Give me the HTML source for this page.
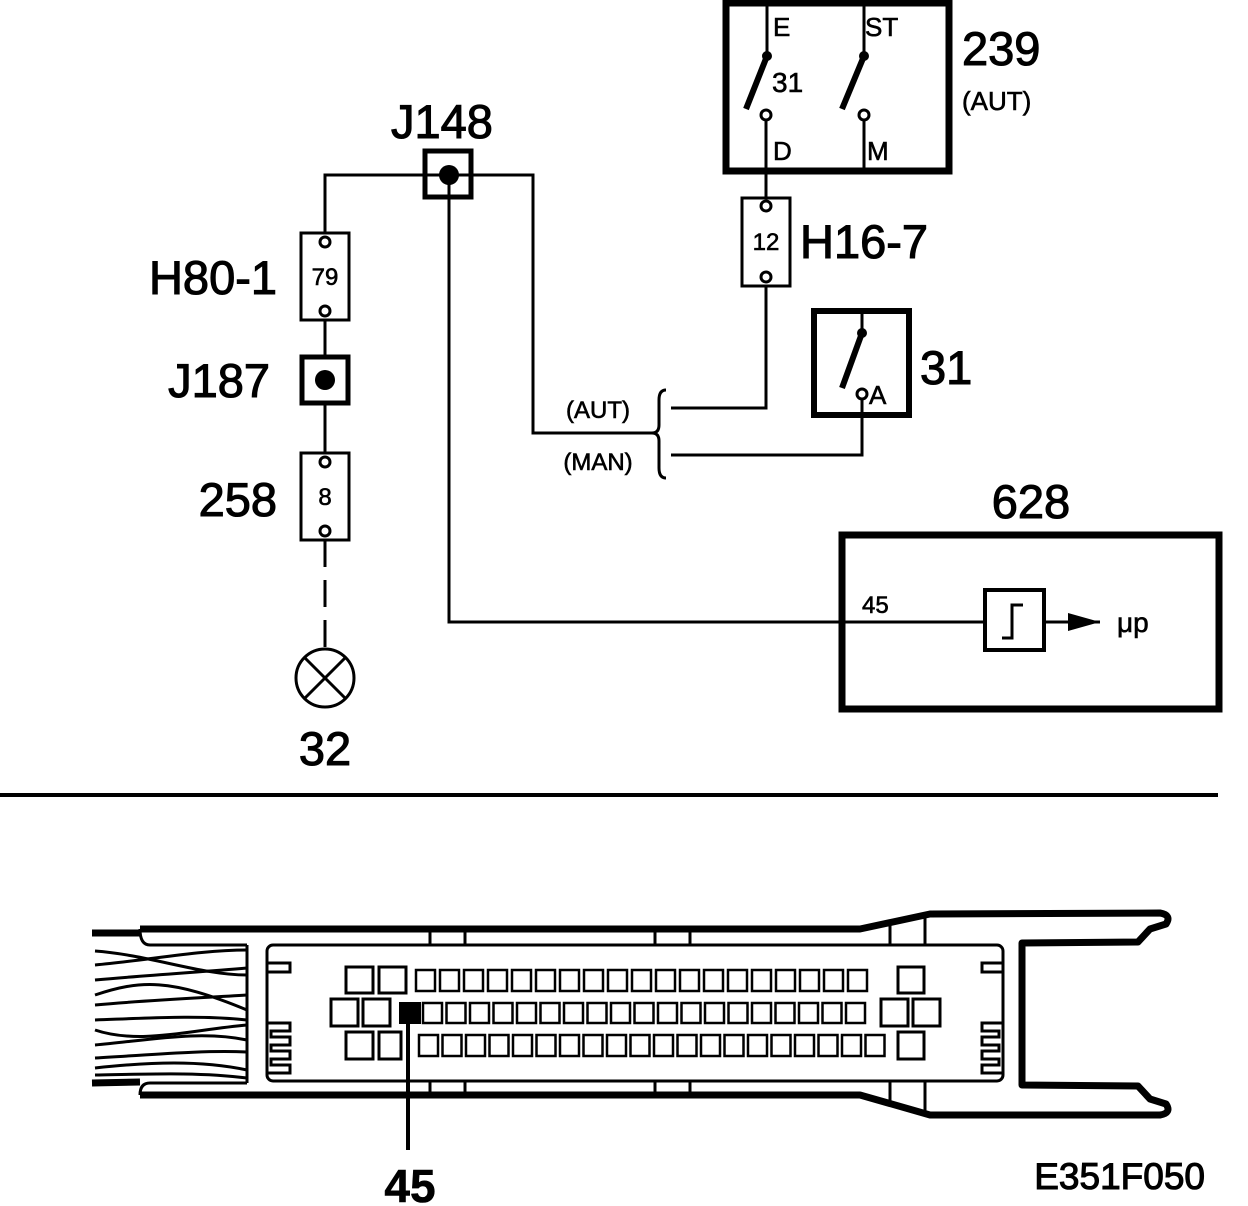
<!DOCTYPE html>
<html><head><meta charset="utf-8"><style>
html,body{margin:0;padding:0;background:#fff}
svg{display:block}
text{font-family:"Liberation Sans",Arial,sans-serif;fill:#000;stroke:#000;stroke-width:0.6}
text.b{stroke-width:1.1}
</style></head><body>
<svg width="1248" height="1206" viewBox="0 0 1248 1206" xmlns="http://www.w3.org/2000/svg">
<g fill="none" stroke="#000">
<polyline points="325,233 325,175 533,175 533,433 652,433" stroke-width="3"/>
<polyline points="449,175 449,622 985,622" stroke-width="3"/>
<rect x="425" y="151" width="46" height="46" stroke-width="5"/>
<rect x="301" y="233" width="48" height="87" stroke-width="3"/>
<line x1="325" y1="320" x2="325" y2="356" stroke-width="3"/>
<rect x="302" y="357" width="46" height="46" stroke-width="5"/>
<line x1="325" y1="403" x2="325" y2="453" stroke-width="3"/>
<rect x="301" y="453" width="48" height="87" stroke-width="3"/>
<line x1="325" y1="540" x2="325" y2="652" stroke-width="3" stroke-dasharray="27,13"/>
<circle cx="325" cy="678" r="29" stroke-width="3"/>
<line x1="305" y1="658" x2="345" y2="698" stroke-width="3"/>
<line x1="345" y1="658" x2="305" y2="698" stroke-width="3"/>
<rect x="726" y="3" width="223" height="168" stroke-width="7"/>
<line x1="767" y1="3" x2="767" y2="56" stroke-width="3"/>
<line x1="864" y1="3" x2="864" y2="56" stroke-width="3"/>
<line x1="767" y1="56" x2="746" y2="109" stroke-width="6"/>
<line x1="864" y1="56" x2="842" y2="109" stroke-width="6"/>
<line x1="766" y1="120" x2="766" y2="199" stroke-width="3"/>
<line x1="864" y1="120" x2="864" y2="171" stroke-width="3"/>
<circle cx="766" cy="115" r="5" stroke-width="3" fill="#fff"/>
<circle cx="864" cy="115" r="5" stroke-width="3" fill="#fff"/>
<rect x="742" y="198" width="48" height="88" stroke-width="3"/>
<polyline points="766,286 766,408 671,408" stroke-width="3"/>
<rect x="814" y="311" width="95" height="104" stroke-width="6"/>
<line x1="862" y1="311" x2="862" y2="333" stroke-width="3"/>
<line x1="862" y1="333" x2="842" y2="388" stroke-width="6"/>
<polyline points="862,398 862,455 671,455" stroke-width="3"/>
<circle cx="862" cy="394" r="5" stroke-width="3" fill="#fff"/>
<path d="M666,390 Q659,390 659,400 L659,425 Q659,433 652,433 Q659,433 659,441 L659,468 Q659,478 666,478" stroke-width="3"/>
<rect x="842" y="535" width="377" height="174" stroke-width="7"/>
<rect x="985" y="590" width="59" height="60" stroke-width="4"/>
<polyline points="1002,638 1012,638 1012,605 1023,605" stroke-width="3"/>
<line x1="1044" y1="622" x2="1100" y2="622" stroke-width="3"/>
<line x1="0" y1="795" x2="1218" y2="795" stroke-width="4"/>
<path d="M92,933 L140,933 M140,929 L860,929 L930,914 L1160,913 Q1172,915 1166,924 L1150,929 L1138,942 L1022,943 L1022,1085 L1138,1086 L1150,1099 L1166,1104 Q1172,1113 1160,1115 L930,1115 L860,1095 L140,1095 M92,1083 L140,1082" stroke-width="7" stroke-linejoin="round"/>
<path d="M140,929 Q140,945 150,945 L247,945 M140,1095 Q140,1083 150,1083 L247,1083" stroke-width="3"/>
<line x1="247" y1="945" x2="247" y2="1083" stroke-width="3"/>
<rect x="267" y="945" width="736" height="136" rx="6" stroke-width="3"/>
<path d="M267,963 L290,963 L290,972 L267,972 M267,1023 L290,1023 L290,1031 L271,1031 L271,1037 L290,1037 L290,1045 L271,1045 L271,1051 L290,1051 L290,1059 L271,1059 L271,1065 L290,1065 L290,1073 L267,1073" stroke-width="3"/>
<path d="M1003,963 L982,963 L982,972 L1003,972 M1003,1023 L982,1023 L982,1031 L999,1031 L999,1037 L982,1037 L982,1045 L999,1045 L999,1051 L982,1051 L982,1059 L999,1059 L999,1065 L982,1065 L982,1073 L1003,1073" stroke-width="3"/>
<path d="M430,932 V945 M465,932 V945 M655,932 V945 M690,932 V945 M890,920 V945 M925,915 V945 M430,1081 V1092 M465,1081 V1092 M655,1081 V1092 M690,1081 V1092 M890,1081 V1102 M925,1081 V1112" stroke-width="3"/>
<g stroke-width="3">
<path d="M95,951 C150,955 200,975 247,975"/>
<path d="M95,965 C150,960 200,950 247,950"/>
<path d="M95,980 C150,975 200,972 247,968"/>
<path d="M95,995 C140,980 170,978 247,1010"/>
<path d="M95,1005 C150,1000 200,998 247,995"/>
<path d="M95,1020 C150,1018 200,1015 247,1020"/>
<path d="M95,1030 C140,1045 190,1030 247,1025"/>
<path d="M95,1045 C150,1040 200,1030 247,1040"/>
<path d="M95,1058 C150,1055 200,1050 247,1052"/>
<path d="M95,1068 C150,1062 200,1060 247,1070"/>
<path d="M95,1075 C150,1074 200,1072 247,1078"/>
</g>
<g stroke-width="3">
<rect x="346" y="967" width="27" height="26"/><rect x="379" y="967" width="27" height="26"/>
<rect x="331" y="999" width="27" height="27"/><rect x="363" y="999" width="27" height="27"/>
<rect x="346" y="1032" width="27" height="27"/><rect x="379" y="1032" width="22" height="27"/>
<rect x="898" y="967" width="26" height="26"/>
<rect x="881" y="999" width="27" height="27"/><rect x="913" y="999" width="27" height="27"/>
<rect x="898" y="1032" width="26" height="27"/>
</g>
<g stroke-width="2.5">
<rect x="416" y="970" width="19" height="21"/><rect x="440" y="970" width="19" height="21"/><rect x="464" y="970" width="19" height="21"/><rect x="488" y="970" width="19" height="21"/><rect x="512" y="970" width="19" height="21"/><rect x="536" y="970" width="19" height="21"/><rect x="560" y="970" width="19" height="21"/><rect x="584" y="970" width="19" height="21"/><rect x="608" y="970" width="19" height="21"/><rect x="632" y="970" width="19" height="21"/><rect x="656" y="970" width="19" height="21"/><rect x="680" y="970" width="19" height="21"/><rect x="704" y="970" width="19" height="21"/><rect x="728" y="970" width="19" height="21"/><rect x="752" y="970" width="19" height="21"/><rect x="776" y="970" width="19" height="21"/><rect x="800" y="970" width="19" height="21"/><rect x="824" y="970" width="19" height="21"/><rect x="848" y="970" width="19" height="21"/>
</g>
<g stroke-width="2.5">
<rect x="423" y="1003" width="19" height="20"/><rect x="446.5" y="1003" width="19" height="20"/><rect x="470" y="1003" width="19" height="20"/><rect x="493.5" y="1003" width="19" height="20"/><rect x="517" y="1003" width="19" height="20"/><rect x="540.5" y="1003" width="19" height="20"/><rect x="564" y="1003" width="19" height="20"/><rect x="587.5" y="1003" width="19" height="20"/><rect x="611" y="1003" width="19" height="20"/><rect x="634.5" y="1003" width="19" height="20"/><rect x="658" y="1003" width="19" height="20"/><rect x="681.5" y="1003" width="19" height="20"/><rect x="705" y="1003" width="19" height="20"/><rect x="728.5" y="1003" width="19" height="20"/><rect x="752" y="1003" width="19" height="20"/><rect x="775.5" y="1003" width="19" height="20"/><rect x="799" y="1003" width="19" height="20"/><rect x="822.5" y="1003" width="19" height="20"/><rect x="846" y="1003" width="19" height="20"/>
</g>
<g stroke-width="2.5">
<rect x="419" y="1035" width="19" height="21"/><rect x="442.5" y="1035" width="19" height="21"/><rect x="466" y="1035" width="19" height="21"/><rect x="489.5" y="1035" width="19" height="21"/><rect x="513" y="1035" width="19" height="21"/><rect x="536.5" y="1035" width="19" height="21"/><rect x="560" y="1035" width="19" height="21"/><rect x="583.5" y="1035" width="19" height="21"/><rect x="607" y="1035" width="19" height="21"/><rect x="630.5" y="1035" width="19" height="21"/><rect x="654" y="1035" width="19" height="21"/><rect x="677.5" y="1035" width="19" height="21"/><rect x="701" y="1035" width="19" height="21"/><rect x="724.5" y="1035" width="19" height="21"/><rect x="748" y="1035" width="19" height="21"/><rect x="771.5" y="1035" width="19" height="21"/><rect x="795" y="1035" width="19" height="21"/><rect x="818.5" y="1035" width="19" height="21"/><rect x="842" y="1035" width="19" height="21"/><rect x="865.5" y="1035" width="19" height="21"/>
</g>
<line x1="408" y1="1020" x2="408" y2="1150" stroke-width="4"/>
</g>
<g fill="#000">
<circle cx="449" cy="175" r="10"/>
<circle cx="325" cy="380" r="10"/>
<rect x="399" y="1002" width="22" height="22"/>
<circle cx="767" cy="56" r="5"/><circle cx="864" cy="56" r="5"/>
<circle cx="862" cy="333" r="5"/>
<polygon points="1068,613 1100,622 1068,631"/>
</g>
<g fill="#fff" stroke="#000" stroke-width="3">
<circle cx="325" cy="242" r="5"/><circle cx="325" cy="311" r="5"/>
<circle cx="325" cy="462" r="5"/><circle cx="325" cy="531" r="5"/>
<circle cx="766" cy="206" r="5"/><circle cx="766" cy="277" r="5"/>
</g>
<text class="b" x="442" y="138" font-size="47" text-anchor="middle">J148</text>
<text class="b" x="277" y="294" font-size="47" text-anchor="end">H80-1</text>
<text x="325" y="285" font-size="24" text-anchor="middle">79</text>
<text class="b" x="270" y="397" font-size="47" text-anchor="end">J187</text>
<text class="b" x="277" y="516" font-size="47" text-anchor="end">258</text>
<text x="325" y="505" font-size="24" text-anchor="middle">8</text>
<text class="b" x="325" y="765" font-size="47" text-anchor="middle">32</text>
<text x="773" y="36" font-size="26">E</text>
<text x="865" y="36" font-size="26">ST</text>
<text x="772" y="92" font-size="28">31</text>
<text x="773" y="160" font-size="26">D</text>
<text x="867" y="160" font-size="26">M</text>
<text class="b" x="962" y="65" font-size="47">239</text>
<text x="962" y="110" font-size="26">(AUT)</text>
<text x="766" y="250" font-size="24" text-anchor="middle">12</text>
<text class="b" x="800" y="258" font-size="47">H16-7</text>
<text class="b" x="920" y="384" font-size="47">31</text>
<text x="869" y="404" font-size="26">A</text>
<text x="598" y="418" font-size="24" text-anchor="middle">(AUT)</text>
<text x="598" y="470" font-size="24" text-anchor="middle">(MAN)</text>
<text class="b" x="1031" y="518" font-size="47" text-anchor="middle">628</text>
<text x="862" y="613" font-size="24">45</text>
<text x="1117" y="632" font-size="28">μp</text>
<text x="410" y="1202" font-size="46" font-weight="bold" text-anchor="middle">45</text>
<text class="b" x="1205" y="1189" font-size="37" text-anchor="end">E351F050</text>
</svg>
</body></html>
